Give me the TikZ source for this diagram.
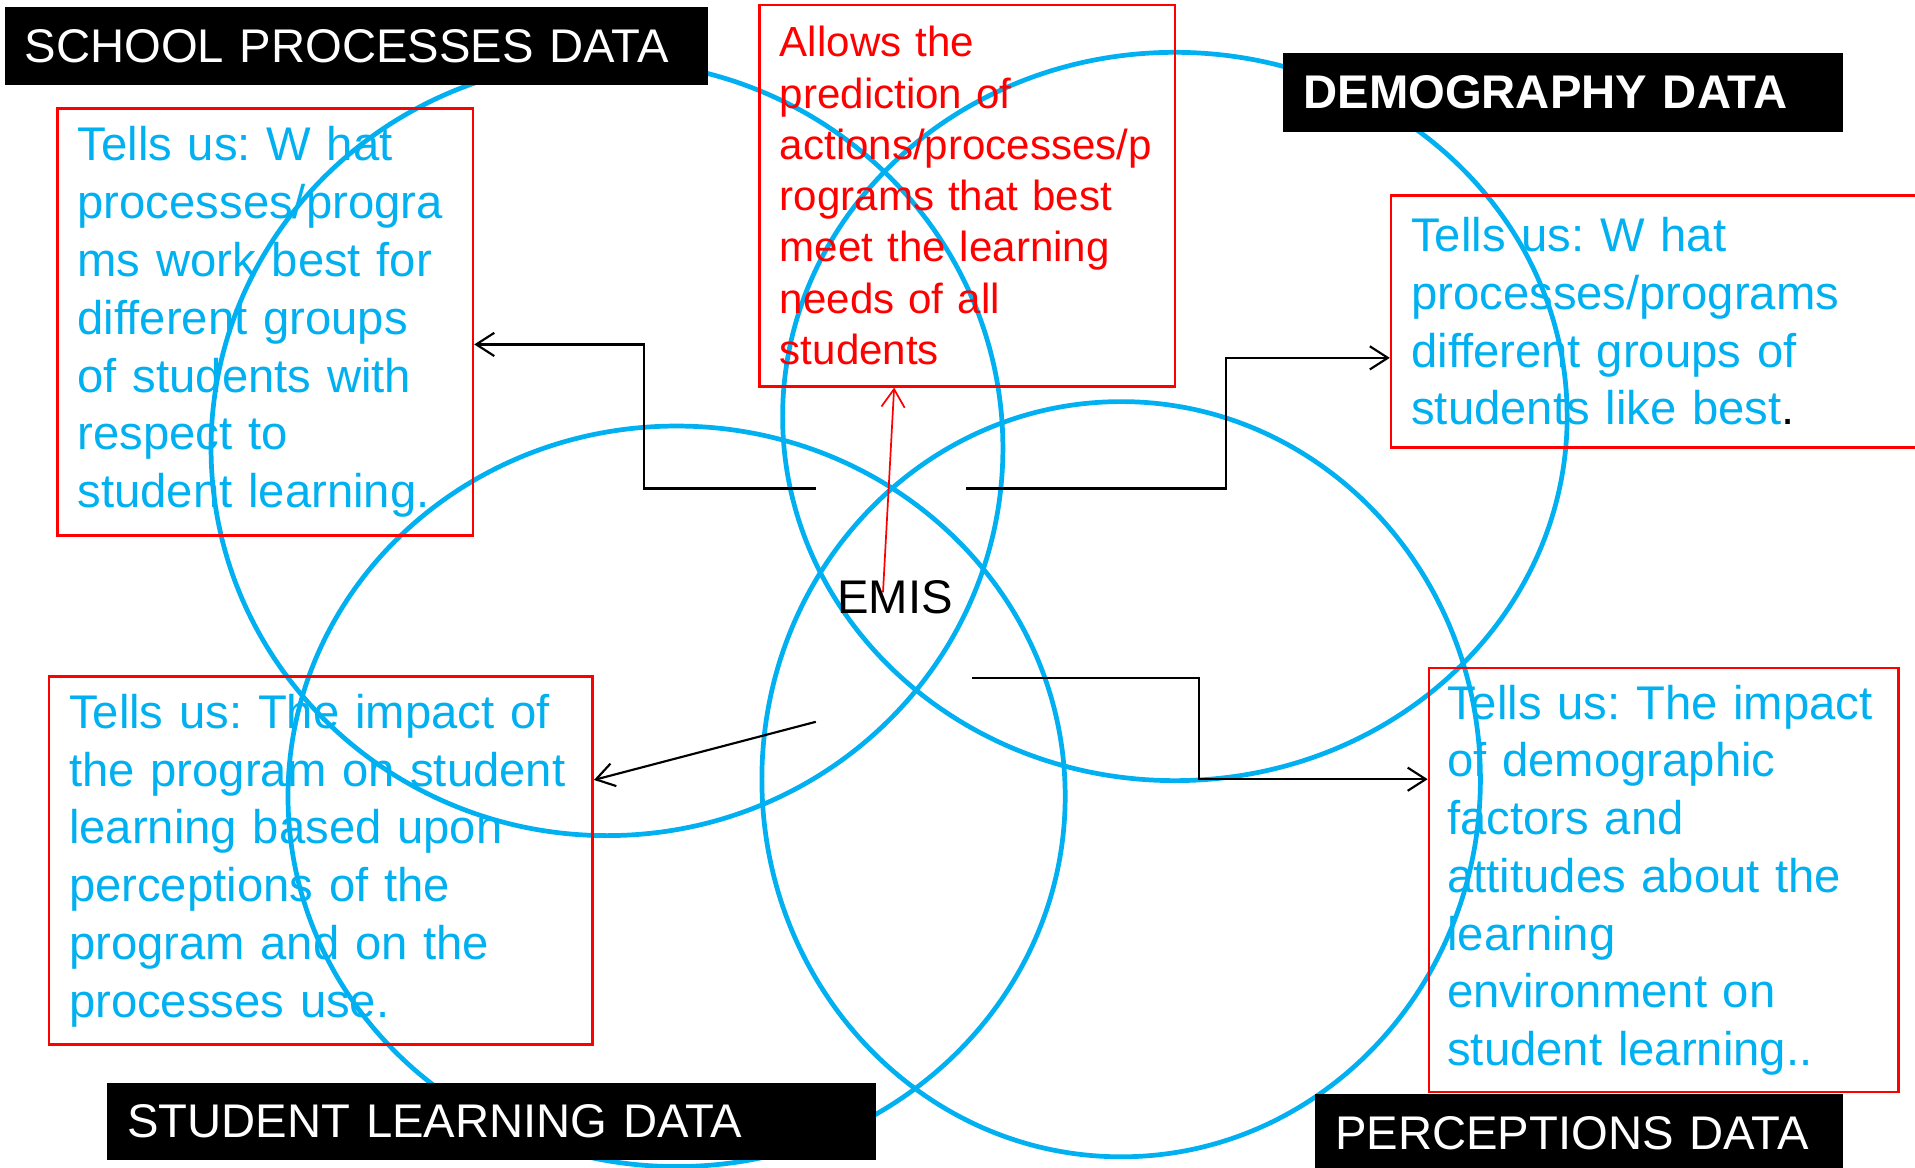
\documentclass[tikz,border=0pt]{standalone}
\usepackage{fontspec}
\setmainfont{Liberation Sans}
\usetikzlibrary{arrows.meta}
\definecolor{venn}{RGB}{0,176,240}
\hyphenpenalty=10000
\exhyphenpenalty=10000
\frenchspacing
\begin{document}
\begin{tikzpicture}[x=0.01cm, y=-0.01cm,
  >={Straight Barb[length=4.2pt,width=5.4pt]},
  ring/.style={draw=venn, line width=1.1pt},
  info/.style={draw=red, line width=0.6pt, anchor=north west, inner xsep=0.165cm, inner ysep=0pt,
    align=left, text=venn, font=\fontsize{11}{13.45}\selectfont},
  tag/.style={fill=black, text=white, anchor=north west, inner xsep=0.165cm, inner ysep=0pt,
    align=left, font=\fontsize{11}{13}\selectfont},
  conn/.style={->, line width=0.5pt}]
\useasboundingbox (0,0) rectangle (1568,956);

% the four data sets
\draw[ring] (497,367) ellipse [x radius=3.24cm, y radius=3.17cm];
\draw[ring] (554,652) ellipse [x radius=3.18cm, y radius=3.03cm];
\draw[ring] (962,341) ellipse [x radius=3.21cm, y radius=2.98cm];
\draw[ring] (918,638) ellipse [x radius=2.94cm, y radius=3.09cm];

\node[info, text=red, font=\fontsize{9.8}{11.95}\selectfont, text width=3.07cm, minimum height=3.12cm] (predict) at (621,3)
  {Allows the\\prediction of\\actions/processes/p\\rograms that best\\meet the learning\\needs of all\\students};
\node[info, text width=3.07cm, minimum height=3.49cm] (spinfo) at (46,88)
  {Tells us: W hat\\processes/progra\\ms work best for\\different groups\\of students with\\respect to\\student learning.};
\node[info, text width=4.01cm, minimum height=2.06cm] (dginfo) at (1138,159)
  {Tells us: W hat\\processes/programs\\different groups of\\students like best{\color{black}.}};
\node[info, text width=4.12cm, minimum height=3.01cm] (slinfo) at (39,553)
  {Tells us: The impact of\\the program on student\\learning based upon\\perceptions of the\\program and on the\\processes use.};
\node[info, inner xsep=0.15cm, text width=3.54cm, minimum height=3.47cm] (pcinfo) at (1169,546)
  {Tells us: The impact\\of demographic\\factors and\\attitudes about the\\learning\\environment on\\student learning..};

\node[tag, text width=5.43cm, minimum height=0.635cm] (spdata) at (3,5) {SCHOOL PROCESSES DATA};
\node[tag, text width=4.25cm, minimum height=0.64cm, font=\fontsize{11}{13}\selectfont\bfseries] (dgdata) at (1050,43) {DEMOGRAPHY DATA};
\node[tag, text width=5.96cm, minimum height=0.63cm] (sldata) at (87,886) {STUDENT LEARNING DATA};
\node[tag, text width=3.99cm, minimum height=0.64cm] (pcdata) at (1076,895) {PERCEPTIONS DATA};

\node[font=\fontsize{11}{13}\selectfont] (emis) at (733,489) {EMIS};

\coordinate (fromsp) at (668,400);
\coordinate (spbend) at (527,282);
\draw[conn] (fromsp) -| (spbend) -- (spinfo.east |- spbend);
\coordinate (fromdg) at (791,400);
\coordinate (dgbend) at (1004,293);
\draw[conn] (fromdg) -| (dgbend) -- (dginfo.west |- dgbend);
\coordinate (fromsl) at (668,591);
\draw[conn] (fromsl) -- ([yshift=0.66cm]slinfo.east);
\coordinate (frompc) at (796,555);
\coordinate (pcbend) at (982,638);
\draw[conn] (frompc) -| (pcbend) -- (pcinfo.west |- pcbend);
\coordinate (frompr) at (723,485);
\draw[conn, red, line width=0.4pt] (frompr) -- ([xshift=-0.6cm]predict.south);
\end{tikzpicture}
\end{document}
